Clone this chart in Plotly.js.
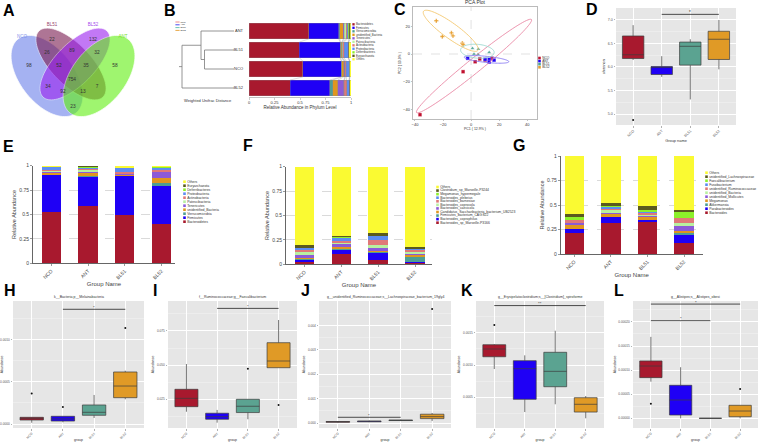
<!DOCTYPE html>
<html><head><meta charset="utf-8">
<script src="https://cdn.plot.ly/plotly-3.0.1.min.js"></script>
<style>html,body{margin:0;padding:0;background:#fff}#chart{width:765px;height:442px}</style>
</head><body><div id="chart"></div>
<script>
// ================= DATA =================
const groups = ["NCO","ANT","BL51","BL52"];
const groupColors = ["#A8192E","#1F00F5","#5BA391","#E09A26"];

// A: Venn
const vennSets = ["NCO","BL51","BL52","ANT"];
const vennCounts = [98,22,132,58,26,89,32,52,35,754,34,7,92,13,23];

// B/E: phylum level (bottom -> top of stack)
const phyla = ["Bacteroidetes","Firmicutes","Verrucomicrobia","unidentified_Bacteria","Tenericutes","Patescibacteria","Actinobacteria","Proteobacteria","Deferribacteres","Euryarchaeota","Others"];
const phylumNCO  = [0.528,0.376,0.005,0.020,0.010,0.005,0.010,0.030,0.003,0.002,0.011];
const phylumANT  = [0.586,0.294,0.010,0.035,0.010,0.020,0.010,0.010,0.010,0.010,0.005];
const phylumBL51 = [0.494,0.399,0.005,0.010,0.005,0.005,0.015,0.040,0.002,0.003,0.022];
const phylumBL52 = [0.402,0.389,0.030,0.050,0.060,0.005,0.020,0.025,0.003,0.002,0.014];
const dendroOrder = ["ANT","BL51","NCO","BL52"];
const distBL51_NCO = 0.059, distANT_cluster = 0.066, distRoot = 0.104;

// F: species level
const species = ["Bacteroides_sp_Marseille-P3166","Bacteroides_coprophilus","Firmicutes_bacterium_CAG:822","Candidatus_Saccharibacteria_bacterium_UB2523","Bacteroides_caecicola","Bacteroides_coprocola","Bacteroides_barnesiae","Bacteroides_plebeius","Megamonas_hypermegale","Clostridium_sp_Marseille-P3244","Others"];
const speciesNCO  = [0.020,0.025,0.010,0.010,0.035,0.025,0.020,0.020,0.005,0.025,0.805];
const speciesANT  = [0.105,0.045,0.005,0.025,0.030,0.010,0.020,0.030,0.005,0.020,0.705];
const speciesBL51 = [0.040,0.080,0.005,0.010,0.030,0.030,0.055,0.035,0.005,0.035,0.675];
const speciesBL52 = [0.010,0.015,0.050,0.025,0.010,0.020,0.015,0.010,0.005,0.015,0.825];

// G: genus level
const genera = ["Bacteroides","Parabacteroides","Akkermansia","Megamonas","unidentified_Mollicutes","unidentified_Bacteria","unidentified_Ruminococcaceae","Fusobacterium","Faecalibacterium","unidentified_Lachnospiraceae","Others"];
const genusNCO  = [0.218,0.037,0.005,0.040,0.015,0.005,0.025,0.005,0.025,0.035,0.590];
const genusANT  = [0.316,0.058,0.005,0.025,0.015,0.025,0.020,0.020,0.010,0.030,0.476];
const genusBL51 = [0.327,0.020,0.003,0.030,0.010,0.005,0.025,0.010,0.015,0.040,0.515];
const genusBL52 = [0.109,0.085,0.025,0.020,0.045,0.030,0.050,0.005,0.060,0.020,0.551];
const taxonColors = ["#A8192E","#1F00F5","#4D9E93","#E0961F","#8C5AD8","#B8F0A0","#E07878","#5C8CF2","#8CF02A","#5A5A1E","#FAFA32"];

// C: PCA
const pcaNCO_x  = [2.9,6.2,14.8,-5.7,-36.4,10.0];
const pcaNCO_y  = [-5.6,-3.6,-3.1,-12.8,-43.9,-4.4];
const pcaANT_x  = [-2.4,10.0,12.9,16.4,12.9];
const pcaANT_y  = [-3.1,-3.9,-3.9,-4.4,-5.8];
const pcaBL51_x = [1.0,5.2,12.9,2.1,5.0];
const pcaBL51_y = [4.1,3.6,1.2,0.0,-0.2];
const pcaBL52_x = [-24.8,-20.5,-14.0,-12.9,-6.2,-5.7];
const pcaBL52_y = [24.0,12.6,15.3,13.1,7.8,6.8];

// D: shannon
const D_lo=[6.15,5.79,5.31,5.95], D_q1=[6.18,5.84,6.04,6.16], D_med=[6.26,5.99,6.44,6.59], D_q3=[6.66,6.01,6.53,6.76], D_hi=[6.89,6.23,6.59,7.00];
const D_outGroup=["NCO"], D_outVal=[4.87];
const D_sigPairs=[["ANT","BL52"]], D_sigY=[7.12], D_sigText=["*"];
// H
const H_lo=[0.000015,0.00002,0.000071,0.000292], H_q1=[0.000047,0.000035,0.000103,0.000311], H_med=[0.000067,0.00006,0.000138,0.000449], H_q3=[0.000079,0.000091,0.000225,0.000615], H_hi=[0.00008,0.000091,0.000343,0.00063];
const H_outGroup=["NCO","ANT","BL52"], H_outVal=[0.00036,0.0002,0.001135];
const H_sigPairs=[["ANT","BL52"]], H_sigY=[0.001356], H_sigText=["*"];
// I
const I_lo=[0.0159,0.0079,0.0104,0.0481], I_q1=[0.0196,0.0104,0.0153,0.0481], I_med=[0.0257,0.0123,0.0199,0.053], I_q3=[0.0323,0.0148,0.025,0.0664], I_hi=[0.0508,0.0172,0.025,0.083];
const I_outGroup=["BL51","BL52"], I_outVal=[0.0474,0.0208];
const I_sigPairs=[["ANT","BL52"]], I_sigY=[0.0915], I_sigText=["*"];
// J
const J_lo=[0.00001,0.00003,0.00008,0.00008], J_q1=[0.00003,0.00005,0.0001,0.00018], J_med=[0.00005,0.00007,0.00011,0.00026], J_q3=[0.00006,0.00008,0.00012,0.00036], J_hi=[0.00008,0.0001,0.00014,0.00041];
const J_outGroup=["BL52"], J_outVal=[0.00467];
const J_sigPairs=[["NCO","BL51"]], J_sigY=[0.000234], J_sigText=["*"];
// K
const K_lo=[0.000938,0.000272,0.000392,0.000175], K_q1=[0.001128,0.000469,0.000664,0.000272], K_med=[0.001248,0.000943,0.000902,0.000392], K_q3=[0.001314,0.001067,0.001197,0.000494], K_hi=[0.001325,0.00115,0.001531,0.00052];
const K_outGroup=["NCO"], K_outVal=[0.001619];
const K_sigPairs=[["NCO","BL52"]], K_sigY=[0.00192], K_sigText=["**"];
// L
const L_lo=[0.000076,0,0,0], L_q1=[0.0000844,0.0000068,0,0.0000033], L_med=[0.0001085,0.000038,0,0.0000151], L_q3=[0.000119,0.0000685,0,0.000027], L_hi=[0.000169,0.000106,0,0.000027];
const L_outGroup=["NCO","BL52"], L_outVal=[0.0000303,0.0000608];
const L_sigPairs=[["NCO","BL52"],["NCO","BL51"]], L_sigY=[0.000237,0.0002025], L_sigText=["*","*"];

// ================= LAYOUT HELPERS =================
const W=765, H=442;
const fx = p => p/W, fy = p => 1 - p/H;
const dX = (a,b) => [fx(a), fx(b)];
const dY = (top,bottom) => [fy(bottom), fy(top)];
const FONT = 'Liberation Sans, Arial, sans-serif';
const layout = {width:W, height:H, margin:{l:0,r:0,t:0,b:0}, paper_bgcolor:'#fff', plot_bgcolor:'rgba(0,0,0,0)',
  showlegend:false, barmode:'stack', boxmode:'overlay', font:{family:FONT, size:5, color:'#333'}, shapes:[], annotations:[]};
const traces = [];
const sfx = k => k===1 ? '' : String(k);
const XA = k => 'x'+sfx(k), YA = k => 'y'+sfx(k);
function setAxes(k, xo, yo){
  layout['xaxis'+sfx(k)] = Object.assign({anchor:YA(k), fixedrange:true, zeroline:false}, xo);
  layout['yaxis'+sfx(k)] = Object.assign({anchor:XA(k), fixedrange:true, zeroline:false}, yo);
}
const hidden = {visible:false, showgrid:false};
function ellipsePath(cx,cy,a,b,angDeg){
  const t=angDeg*Math.PI/180; let d='';
  for(let i=0;i<=90;i++){const s=2*Math.PI*i/90;
    const x=cx+a*Math.cos(t)*Math.cos(s)-b*Math.sin(t)*Math.sin(s);
    const y=cy+a*Math.sin(t)*Math.cos(s)+b*Math.cos(t)*Math.sin(s);
    d+=(i?'L':'M')+x.toFixed(3)+','+y.toFixed(3);}
  return d+'Z';
}
function letter(t, left, top){
  layout.annotations.push({text:'<b>'+t+'</b>', xref:'paper', yref:'paper', x:fx(left), y:fy(top), xanchor:'left', yanchor:'top', showarrow:false, font:{size:16, family:FONT, color:'#000'}, borderpad:0});
}
function note(text, xref, yref, x, y, size, opts){
  layout.annotations.push(Object.assign({text:text, xref:xref, yref:yref, x:x, y:y, showarrow:false, font:{size:size, family:FONT, color:'#333'}, borderpad:0}, opts||{}));
}
function legendPanel(k, x0, yFirst, step, names, colors, fsize, msize, symbol){
  const n = names.length;
  setAxes(k, Object.assign({domain:dX(x0, x0+60), range:[0,60]}, hidden),
             Object.assign({domain:dY(yFirst-step/2, yFirst+(n-0.5)*step), range:[n-0.5,-0.5]}, hidden));
  traces.push({type:'scatter', mode:'markers+text', xaxis:XA(k), yaxis:YA(k), x:names.map(()=>1.5), y:names.map((_,i)=>i),
    text:names, textposition:'middle right', textfont:{size:fsize, color:'#333', family:FONT},
    marker:{symbol:symbol||'square', size:msize, color:colors, line:{width:0}}, cliponaxis:false, hoverinfo:'skip'});
}

// ================= A: Venn =================
const vennEllipses = [[47,76,47,27,52],[71,64,46,20,46],[75,64,46,20,-46],[99,76,47,27,-52]];
const vennFill = ["#6A80EA","#7A1A50","#9A20F0","#60F010"];
const vennLabelColor = ["#7F92EA","#98466F","#A448EC","#78E22A"];
const vennCountX = [29,52,93,115,47,72,97,59,86,72,48,97,63,83,73];
const vennCountY = [66,40,40,66,53,51,53,66,66,80,87,87,92,92,107];
const vennLabelX = [22,52,93,123], vennLabelY = [37,25,25,37];
setAxes(1, Object.assign({domain:dX(0,150), range:[0,150]}, hidden), Object.assign({domain:dY(0,130), range:[130,0]}, hidden));
vennEllipses.forEach((e,i)=>layout.shapes.push({type:'path', xref:'x', yref:'y', path:ellipsePath(...e), fillcolor:vennFill[i], opacity:0.6, line:{color:'#fff', width:0.7}, layer:'below'}));
traces.push({type:'scatter', mode:'text', xaxis:'x', yaxis:'y', x:vennCountX, y:vennCountY, text:vennCounts.map(String), textfont:{size:4.8, color:'#333', family:FONT}, hoverinfo:'skip', cliponaxis:false});
traces.push({type:'scatter', mode:'text', xaxis:'x', yaxis:'y', x:vennLabelX, y:vennLabelY, text:vennSets, textfont:{size:4.5, color:vennLabelColor, family:FONT}, hoverinfo:'skip', cliponaxis:false});
letter('A', 2, 1.5);

// ================= B: dendrogram + bars =================
const phylumOf = {NCO:phylumNCO, ANT:phylumANT, BL51:phylumBL51, BL52:phylumBL52};
const rowIdx = g => dendroOrder.indexOf(g);
const rowsY = [21.5, 97.5];
setAxes(2, Object.assign({domain:dX(175,236), range:[0.118,-0.004]}, hidden), Object.assign({domain:dY(rowsY[0],rowsY[1]), range:[3.5,-0.5]}, hidden));
const rA=rowIdx("ANT"), r1=rowIdx("BL51"), rN=rowIdx("NCO"), r2=rowIdx("BL52");
const c1y=(r1+rN)/2, c2y=(rA+c1y)/2, rootY=(c2y+r2)/2;
const dX_ = [0,distANT_cluster,null, 0,distBL51_NCO,null, 0,distBL51_NCO,null, distBL51_NCO,distBL51_NCO,null, distBL51_NCO,distANT_cluster,null,
  distANT_cluster,distANT_cluster,null, distANT_cluster,distRoot,null, 0,distRoot,null, distRoot,distRoot,null, distRoot,distRoot+0.006];
const dY_ = [rA,rA,null, r1,r1,null, rN,rN,null, r1,rN,null, c1y,c1y,null, rA,c1y,null, c2y,c2y,null, r2,r2,null, c2y,r2,null, rootY,rootY];
traces.push({type:'scatter', mode:'lines', xaxis:XA(2), yaxis:YA(2), x:dX_, y:dY_, line:{color:'#7a7a7a', width:0.8}, hoverinfo:'skip', cliponaxis:false, connectgaps:false});
setAxes(3, {domain:dX(249,351), range:[0,1], showline:true, linecolor:'#999', linewidth:0.6, ticks:'outside', ticklen:1.5, tickwidth:0.5, tickcolor:'#999',
  tickvals:[0,0.25,0.5,0.75,1], ticktext:['0','0.25','0.5','0.75','1'], tickfont:{size:4, color:'#333'}, showgrid:false,
  title:{text:'Relative Abundance in Phylum Level', font:{size:4.5, color:'#333'}, standoff:1}},
  {domain:dY(rowsY[0],rowsY[1]), range:[3.5,-0.5], tickvals:[0,1,2,3], ticktext:dendroOrder, tickfont:{size:4, color:'#333'}, ticks:'', ticklabelstandoff:5, showgrid:false, showline:false});
phyla.forEach((p,i)=>{
  traces.push({type:'bar', orientation:'h', xaxis:XA(3), yaxis:YA(3), y:dendroOrder.map(rowIdx), x:dendroOrder.map(g=>phylumOf[g][i]), width:0.84,
    marker:{color:taxonColors[i], line:{color:'#8a8a8a', width:0.3}}, name:p, hoverinfo:'skip'});
});
const cumOf = g => { let s=0; return phylumOf[g].map(v=>(s+=v)); };
const flowX=[], flowY=[];
for(let r=0;r<3;r++){ const ca=cumOf(dendroOrder[r]), cb=cumOf(dendroOrder[r+1]);
  for(let j=0;j<phyla.length-1;j++){ flowX.push(ca[j],cb[j],null); flowY.push(r+0.42,r+1-0.42,null); } }
traces.push({type:'scatter', mode:'lines', xaxis:XA(3), yaxis:YA(3), x:flowX, y:flowY, line:{color:'#9a9a9a', width:0.35}, hoverinfo:'skip'});
setAxes(4, {domain:dX(183,233), range:[0,0.1], showline:true, linecolor:'#555', linewidth:0.6, ticks:'outside', ticklen:1.5, tickwidth:0.5, tickcolor:'#555',
  tickvals:[0,0.025,0.05,0.075,0.1], ticktext:['0','0.025','0.05','0.075','0.1'], tickfont:{size:3.5, color:'#333'}, showgrid:false},
  Object.assign({domain:dY(100,104.5), range:[0,1]}, hidden));
note('Weighted Unifrac Distance', 'paper', 'paper', fx(183), fy(103.5), 4, {xanchor:'left', yanchor:'bottom'});
letter('B', 163, 1.5);

// ================= C: PCA =================
setAxes(5, {domain:dX(413,537), range:[-41.4,47], showline:true, mirror:true, linecolor:'#aaa', linewidth:0.8, ticks:'outside', ticklen:1.5, tickwidth:0.5, tickcolor:'#888',
  tickvals:[-40,-20,0,20,40], tickfont:{size:4, color:'#333'}, showgrid:false, title:{text:'PC1 ( 12.9% )', font:{size:3.5}, standoff:1}},
  {domain:dY(7,119), range:[-47,34], showline:true, mirror:true, linecolor:'#aaa', linewidth:0.8, ticks:'outside', ticklen:1.5, tickwidth:0.5, tickcolor:'#888',
  tickvals:[-40,-20,0,20], tickfont:{size:4, color:'#333'}, showgrid:false, title:{text:'PC2 ( 10.9% )', font:{size:3.5}, standoff:1}});
layout.shapes.push({type:'line', xref:'x5', yref:'y5 domain', x0:0, x1:0, y0:0, y1:1, line:{color:'#cfcfcf', width:0.6, dash:'dash'}, layer:'below'});
layout.shapes.push({type:'line', xref:'x5 domain', yref:'y5', x0:0, x1:1, y0:0, y1:0, line:{color:'#cfcfcf', width:0.6, dash:'dash'}, layer:'below'});
const pcaEllipses = [[2.1,-8.7,53,5,39.4],[11,-3.9,16,2.2,-6],[4.5,2,12,5,-5],[-14.5,16.8,24,5.5,-36.3]];
const pcaEllColors = ["#E77C9C","#7C6CF0","#92D4CC","#F2C25E"];
pcaEllipses.forEach((e,i)=>layout.shapes.push({type:'path', xref:'x5', yref:'y5', path:ellipsePath(...e), line:{color:pcaEllColors[i], width:0.8}, fillcolor:'rgba(0,0,0,0)', layer:'above'}));
const pcaSym = ['square','square','triangle-up','cross'];
const pcaCol = ["#C0102E","#1F00F5","#4FA396","#E8A030"];
[[pcaNCO_x,pcaNCO_y],[pcaANT_x,pcaANT_y],[pcaBL51_x,pcaBL51_y],[pcaBL52_x,pcaBL52_y]].forEach((p,i)=>{
  traces.push({type:'scatter', mode:'markers', xaxis:XA(5), yaxis:YA(5), x:p[0], y:p[1], marker:{symbol:pcaSym[i], size:3.6, color:pcaCol[i], line:{color:'#fff', width:0.3}}, name:groups[i], hoverinfo:'skip'});
});
note('PCA Plot', 'paper', 'paper', fx(475), fy(6.5), 5, {xanchor:'center', yanchor:'bottom'});
legendPanel(15, 538, 58, 3.1, groups, pcaCol, 3.2, 2.6, 'square');
letter('C', 393, 0.5);

// ================= box panel helper =================
function boxPanel(k, xd, yd, yRange, tickVals, tickText, st, outG, outV, sigP, sigY, sigT, title, xTitle, yTitle, fsz){
  const mids=[]; for(let i=0;i<tickVals.length-1;i++) mids.push((tickVals[i]+tickVals[i+1])/2);
  const step = tickVals[1]-tickVals[0];
  if(tickVals[0]-step/2 > yRange[0]) mids.unshift(tickVals[0]-step/2);
  if(tickVals[tickVals.length-1]+step/2 < yRange[1]) mids.push(tickVals[tickVals.length-1]+step/2);
  setAxes(k, {type:'category', categoryorder:'array', categoryarray:groups, range:[-0.6,3.6], domain:dX(xd[0],xd[1]), showgrid:true, gridcolor:'#fff', gridwidth:1,
      ticks:'outside', ticklen:1.5, tickwidth:0.5, tickcolor:'#666', tickangle:-45, tickfont:{size:fsz, color:'#555'}, showline:false,
      title:{text:xTitle, font:{size:fsz+0.3, color:'#333'}, standoff:2}},
    {domain:dY(yd[0],yd[1]), range:yRange, tickmode:'array', tickvals:tickVals, ticktext:tickText, ticks:'outside', ticklen:1.5, tickwidth:0.5, tickcolor:'#666',
      tickfont:{size:fsz, color:'#555'}, showgrid:true, gridcolor:'#fff', gridwidth:1, showline:false,
      minor:{tickmode:'array', tickvals:mids, showgrid:true, gridcolor:'rgba(255,255,255,0.6)', gridwidth:0.5, ticks:''},
      title:{text:yTitle, font:{size:fsz+0.3, color:'#333'}, standoff:2}});
  layout.shapes.push({type:'rect', xref:XA(k)+' domain', yref:YA(k)+' domain', x0:0, x1:1, y0:0, y1:1, fillcolor:'#E6E6E6', line:{width:0}, layer:'below'});
  groups.forEach((g,i)=>{
    traces.push({type:'box', xaxis:XA(k), yaxis:YA(k), x:[g], q1:[st.q1[i]], median:[st.med[i]], q3:[st.q3[i]], lowerfence:[st.lo[i]], upperfence:[st.hi[i]],
      fillcolor:groupColors[i], line:{color:'#3c3c3c', width:0.7}, width:0.75, whiskerwidth:0, boxpoints:false, hoverinfo:'skip', name:g});
  });
  traces.push({type:'scatter', mode:'markers', xaxis:XA(k), yaxis:YA(k), x:outG, y:outV, marker:{color:'#111', size:2}, hoverinfo:'skip', cliponaxis:false});
  sigP.forEach((p,i)=>{
    traces.push({type:'scatter', mode:'lines', xaxis:XA(k), yaxis:YA(k), x:p, y:[sigY[i],sigY[i]], line:{color:'#222', width:0.8}, hoverinfo:'skip', cliponaxis:false});
    const mid=(groups.indexOf(p[0])+groups.indexOf(p[1]))/2;
    note(sigT[i], XA(k), YA(k), mid, sigY[i], fsz+1, {yanchor:'bottom', yshift:-1.5});
  });
  if(title) note(title, 'paper', 'paper', fx((xd[0]+xd[1])/2), fy(yd[0]-1.5), fsz+0.3, {xanchor:'center', yanchor:'bottom'});
}

// ================= D =================
boxPanel(6, [616,736], [8,125], [4.766,7.255], [5.0,5.5,6.0,6.5,7.0], ['5.0','5.5','6.0','6.5','7.0'],
  {lo:D_lo,q1:D_q1,med:D_med,q3:D_q3,hi:D_hi}, D_outGroup, D_outVal, D_sigPairs, D_sigY, D_sigText, null, 'Group name', 'shannon', 3.6);
letter('D', 585, 0.5);

// ================= E/F/G stacked bars =================
function stackPanel(k, xd, yd, xRange, taxa, vals, lgX, lgY, lgStep){
  setAxes(k, {type:'category', categoryorder:'array', categoryarray:groups, range:xRange, domain:dX(xd[0],xd[1]), showline:true, linecolor:'#555', linewidth:0.9,
      ticks:'outside', ticklen:2, tickwidth:0.6, tickcolor:'#555', tickangle:-45, tickfont:{size:5, color:'#444'}, showgrid:false,
      title:{text:'Group Name', font:{size:6, color:'#444'}, standoff:2}},
    {domain:dY(yd[0],yd[1]), range:[0,1], tickvals:[0,0.25,0.5,0.75,1], ticktext:['0','0.25','0.5','0.75','1'], showline:true, linecolor:'#555', linewidth:0.9,
      ticks:'outside', ticklen:2, tickwidth:0.6, tickcolor:'#555', tickfont:{size:5, color:'#444'}, showgrid:true, gridcolor:'#b5b5b5', gridwidth:0.5, griddash:'dash',
      title:{text:'Relative Abundance', font:{size:5.5, color:'#444'}, standoff:2}});
  taxa.forEach((t,i)=>traces.push({type:'bar', xaxis:XA(k), yaxis:YA(k), x:groups, y:vals.map(v=>v[i]), width:0.53, name:t,
    marker:{color:taxonColors[i], line:{width:0}}, hoverinfo:'skip'}));
  const rev = taxa.slice().reverse(), revC = taxonColors.slice().reverse();
  legendPanel(k+10, lgX, lgY, lgStep, rev, revC, 3.4, 2.6, 'square');
}
stackPanel(7, [33,175], [165.7,263.3], [-0.5,3.37], phyla, [phylumNCO,phylumANT,phylumBL51,phylumBL52], 183, 181.7, 4.0);
stackPanel(8, [286,432], [166.7,264.3], [-0.5,3.46], species, [speciesNCO,speciesANT,speciesBL51,speciesBL52], 436, 187, 3.57);
stackPanel(9, [560.7,702.7], [156,254], [-0.37,3.51], genera, [genusNCO,genusANT,genusBL51,genusBL52], 705, 172.7, 4.0);
letter('E', 2, 136.5); letter('F', 242, 135.5); letter('G', 512, 135.5);

legendPanel(20, 352, 24.3, 3.5, phyla, taxonColors, 2.8, 2.3, 'square');
legendPanel(21, 176, 22, 2.8, groups, ["#F08A8A","#4B4BF0","#6CC4B4","#E8A848"], 2.3, 3, 'line-ew-open');

// ================= H-L =================
const rowTop = 301, rowBot = 428;
boxPanel(10, [13,144], [rowTop,rowBot], [-0.0000473,0.001454], [0,0.0005,0.001], ['0.0000','0.0005','0.0010'],
  {lo:H_lo,q1:H_q1,med:H_med,q3:H_q3,hi:H_hi}, H_outGroup, H_outVal, H_sigPairs, H_sigY, H_sigText, 'k__Bacteria;p__Melainabacteria', 'group', 'Abundance', 3.2);
boxPanel(11, [168,297], [rowTop,rowBot], [0.004,0.0969], [0.025,0.05,0.075], ['0.025','0.050','0.075'],
  {lo:I_lo,q1:I_q1,med:I_med,q3:I_q3,hi:I_hi}, I_outGroup, I_outVal, I_sigPairs, I_sigY, I_sigText, 'f__Ruminococcaceae;g__Faecalibacterium', 'group', 'Abundance', 3.2);
boxPanel(12, [319,451], [rowTop,rowBot], [-0.000205,0.0050], [0,0.001,0.002,0.003,0.004], ['0.000','0.001','0.002','0.003','0.004'],
  {lo:J_lo,q1:J_q1,med:J_med,q3:J_q3,hi:J_hi}, J_outGroup, J_outVal, J_sigPairs, J_sigY, J_sigText, 'g__unidentified_Ruminococcaceae;s__Lachnospiraceae_bacterium_19gly4', 'group', 'Abundance', 3.2);
boxPanel(13, [476,604], [rowTop,rowBot], [0.000025,0.001991], [0.0005,0.001,0.0015], ['0.0005','0.0010','0.0015'],
  {lo:K_lo,q1:K_q1,med:K_med,q3:K_q3,hi:K_hi}, K_outGroup, K_outVal, K_sigPairs, K_sigY, K_sigText, 'g__Erysipelatoclostridium;s__[Clostridium]_spiroforme', 'group', 'Abundance', 3.2);
boxPanel(14, [633,758], [rowTop,rowBot], [-0.0000201,0.0002434], [0,0.00005,0.0001,0.00015,0.0002], ['0.00000','0.00005','0.00010','0.00015','0.00020'],
  {lo:L_lo,q1:L_q1,med:L_med,q3:L_q3,hi:L_hi}, L_outGroup, L_outVal, L_sigPairs, L_sigY, L_sigText, 'g__Alistipes;s__Alistipes_obesi', 'group', 'Abundance', 3.2);
letter('H', 3, 281); letter('I', 152, 281); letter('J', 300, 281); letter('K', 460, 281); letter('L', 613, 281);

Plotly.newPlot('chart', traces, layout, {staticPlot:true, displayModeBar:false});
</script></body></html>
